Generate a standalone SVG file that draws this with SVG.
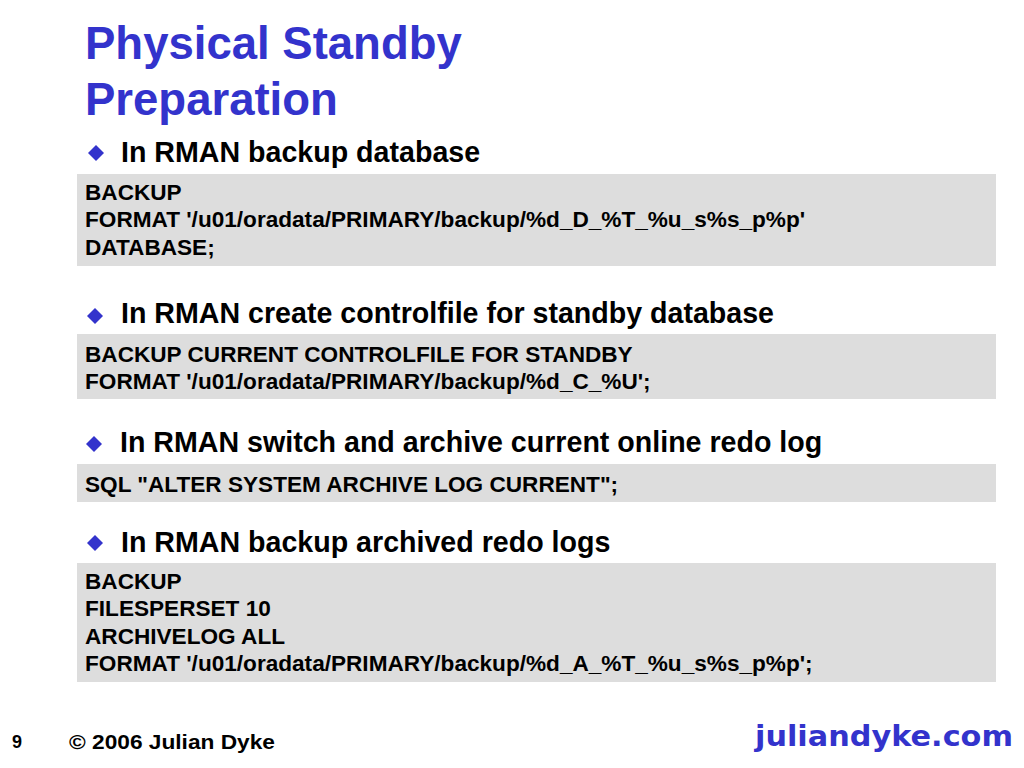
<svg xmlns="http://www.w3.org/2000/svg" width="1024" height="768" viewBox="0 0 1024 768">
<defs>
<style>
.title{font-family:"Liberation Sans",Arial,sans-serif;font-weight:bold;font-size:45.5px;fill:#3333CC}
.bullet{font-family:"Liberation Sans",Arial,sans-serif;font-weight:bold;font-size:28.6px;fill:#000}
.code{font-family:"Liberation Sans",Arial,sans-serif;font-weight:bold;font-size:22.6px;fill:#000}
.box{fill:#DDDDDD}
.dia{fill:#3333CC}
.foot{font-family:"Liberation Sans",Arial,sans-serif;font-weight:bold;fill:#000}
.url{font-family:"DejaVu Sans",Verdana,sans-serif;font-weight:bold;fill:#3333CC}
</style>
<path id="diamond" d="M0,-8 L8,0 L0,8 L-8,0 Z"/>
</defs>
<rect width="1024" height="768" fill="#FFFFFF"/>
<g id="title">
<text class="title" x="85" y="59">Physical Standby</text>
<text class="title" x="85" y="115">Preparation</text>
</g>
<g id="section1">
<use href="#diamond" class="dia" x="96" y="153"/>
<text class="bullet" x="121" y="162">In RMAN backup database</text>
<rect class="box" x="77" y="174" width="919" height="92"/>
<text class="code" x="85" y="200">BACKUP</text>
<text class="code" x="85" y="227">FORMAT '/u01/oradata/PRIMARY/backup/%d_D_%T_%u_s%s_p%p'</text>
<text class="code" x="85" y="255">DATABASE;</text>
</g>
<g id="section2">
<use href="#diamond" class="dia" x="95" y="316"/>
<text class="bullet" x="121" y="323">In RMAN create controlfile for standby database</text>
<rect class="box" x="77" y="334" width="919" height="65"/>
<text class="code" x="85" y="362">BACKUP CURRENT CONTROLFILE FOR STANDBY</text>
<text class="code" x="85" y="389">FORMAT '/u01/oradata/PRIMARY/backup/%d_C_%U';</text>
</g>
<g id="section3">
<use href="#diamond" class="dia" x="94" y="444"/>
<text class="bullet" x="120" y="452">In RMAN switch and archive current online redo log</text>
<rect class="box" x="77" y="464" width="919" height="38"/>
<text class="code" x="85" y="492">SQL "ALTER SYSTEM ARCHIVE LOG CURRENT";</text>
</g>
<g id="section4">
<use href="#diamond" class="dia" x="95" y="543"/>
<text class="bullet" x="121" y="552">In RMAN backup archived redo logs</text>
<rect class="box" x="77" y="563" width="919" height="119"/>
<text class="code" x="85" y="589">BACKUP</text>
<text class="code" x="85" y="616">FILESPERSET 10</text>
<text class="code" x="85" y="644">ARCHIVELOG ALL</text>
<text class="code" x="85" y="671">FORMAT '/u01/oradata/PRIMARY/backup/%d_A_%T_%u_s%s_p%p';</text>
</g>
<g id="footer">
<text class="foot" x="12" y="748" font-size="18">9</text>
<text class="foot" x="69" y="749" font-size="20" textLength="206" lengthAdjust="spacingAndGlyphs">© 2006 Julian Dyke</text>
<text class="url" x="755" y="746" font-size="28" textLength="258" lengthAdjust="spacingAndGlyphs">juliandyke.com</text>
</g>
</svg>
